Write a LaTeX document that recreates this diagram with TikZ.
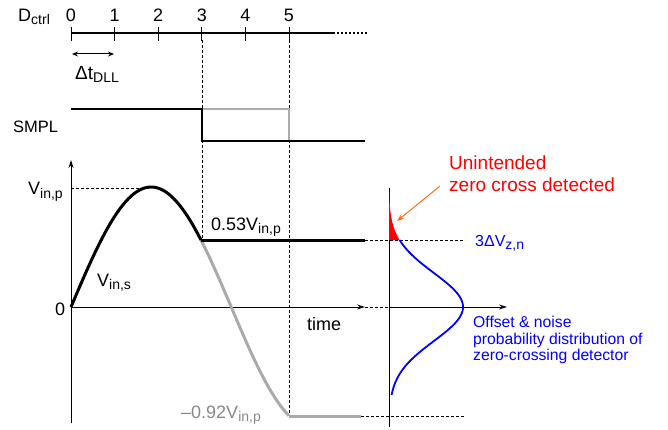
\documentclass[tikz,border=0pt]{standalone}
\usepackage{fontspec}
\setmainfont{Liberation Sans}
\usetikzlibrary{arrows.meta}
\definecolor{holdgray}{HTML}{AAAAAA}
\definecolor{noiseblue}{HTML}{0000FF}
\definecolor{alertred}{HTML}{FF0000}
\definecolor{alertorange}{HTML}{FF6A1A}
\newcommand{\lowsub}[1]{\raisebox{-3pt}{\fontsize{14}{14}\selectfont #1}}

\begin{document}
\begin{tikzpicture}[x=1pt, y=-1pt,
  lbl/.style={inner sep=0pt, anchor=base west, font=\fontsize{18}{21}\selectfont},
  guide/.style={line width=0.6pt, dash pattern=on 3pt off 2pt},
  wave/.style={line width=3pt},
  pulse/.style={line width=2.2pt},
  axisarr/.style={line width=1pt, -{Stealth[length=8pt,width=5pt]}}]
\useasboundingbox (0,0) rectangle (668,430);

% D_ctrl time line
\draw[line width=1.2pt] (71,33) -- (333,33);
\draw[line width=1.2pt, dash pattern=on 2pt off 2pt] (333,33) -- (368,33);
\foreach \i in {0,...,5} {
  \coordinate (t\i) at ({71+43.6*\i},33);
  \draw[line width=1pt] ([yshift=6pt]t\i) -- ([yshift=-8pt]t\i);
  \node[lbl, anchor=base] (d\i) at ({71+43.6*\i},21.5) {\i};
}
\node[lbl] (dctrl) at (18,21.5) {D\lowsub{ctrl}};
\coordinate (dl0) at (72,54);
\coordinate (dl1) at (114,54);
\draw[line width=1pt, {Stealth[length=6pt,width=5pt]}-{Stealth[length=6pt,width=5pt]}] (dl0) -- (dl1);
\node[lbl, font=\fontsize{19}{21}\selectfont] (dtdll) at (75,80) {Δt\lowsub{DLL}};

% sampling instants
\draw[guide] (202,40) -- (202,240);
\draw[guide] (289,40) -- (289,417);

% SMPL
\node[lbl, font=\fontsize{16.5}{20}\selectfont] (smpl) at (13,132.5) {SMPL};
\draw[pulse, holdgray] (202,109) -- (289,109) -- (289,141);
\draw[pulse] (71,109) -- (202,109) -- (202,141) -- (365,141);

% input waveform axes
\coordinate (org) at (71,307);
\draw[axisarr] (71,423) -- (71,160);
\draw[axisarr] (org) -- (365,307);
\draw[guide] (365,307) -- (389,307);
\draw[guide] (71,188) -- (150,188);
\draw[guide] (365,240) -- (465,240);
\draw[guide] (361,416) -- (465,416);

% waveform: tracked part black, lost part gray
\coordinate (hold) at (201,240);
\coordinate (low) at (289,416);
\draw[wave, holdgray] plot[domain=201:289, samples=50]
  (\x, {307-120*sin(1.1235*(\x-71))});
\draw[wave, holdgray] (low) -- (361,416);
\draw[wave] plot[domain=71:201, samples=80]
  (\x, {307-120*sin(1.1235*(\x-71))});
\draw[wave] (hold) -- (365,240);

\node[lbl] (vinp) at (28,195) {V\lowsub{in,p}};
\node[lbl] (zero) at (55,315) {0};
\node[lbl] (vins) at (97,286.5) {V\lowsub{in,s}};
\node[lbl] (vhold) at (211,230.5) {0.53V\lowsub{in,p}};
\node[lbl, text=holdgray!80!black] (vneg) at (181,418.5) {–0.92V\lowsub{in,p}};
\node[lbl] (time) at (307,330) {time};

% zero-crossing detector distribution
\draw[line width=1pt] (389,188) -- (389,427);
\draw[axisarr] (389,307) -- (507,307);
\fill[alertred] (389,190) -- plot[domain=190:240, variable=\t, samples=30]
  ({389+74*exp(-0.5*((\t-307)/34)*((\t-307)/34))}, \t) -- (389,240) -- cycle;
\draw[noiseblue, line width=1.8pt] plot[domain=240:395, variable=\t, samples=80]
  ({389+74*exp(-0.5*((\t-307)/34)*((\t-307)/34))}, \t);

\node[lbl, text=alertred, font=\fontsize{19}{22}\selectfont] (unint) at (449,169.5) {Unintended};
\node[lbl, text=alertred, font=\fontsize{19}{22}\selectfont] (zcd) at (449,192) {zero cross detected};
\coordinate (tip) at (397,221);
\draw[alertorange, line width=1pt, -{Stealth[length=7pt,width=5pt]}] (440,186) -- (tip);
\node[lbl, text=noiseblue, font=\fontsize{16}{19}\selectfont] (vzn) at (475,246.5) {3ΔV\lowsub{z,n}};
\node[inner sep=0pt, anchor=north west, align=left, text=noiseblue,
      font=\fontsize{15.7}{16.7}\selectfont] (pdf) at (473,316) {Offset \& noise\\probability distribution of\\zero-crossing detector};
\end{tikzpicture}
\end{document}
